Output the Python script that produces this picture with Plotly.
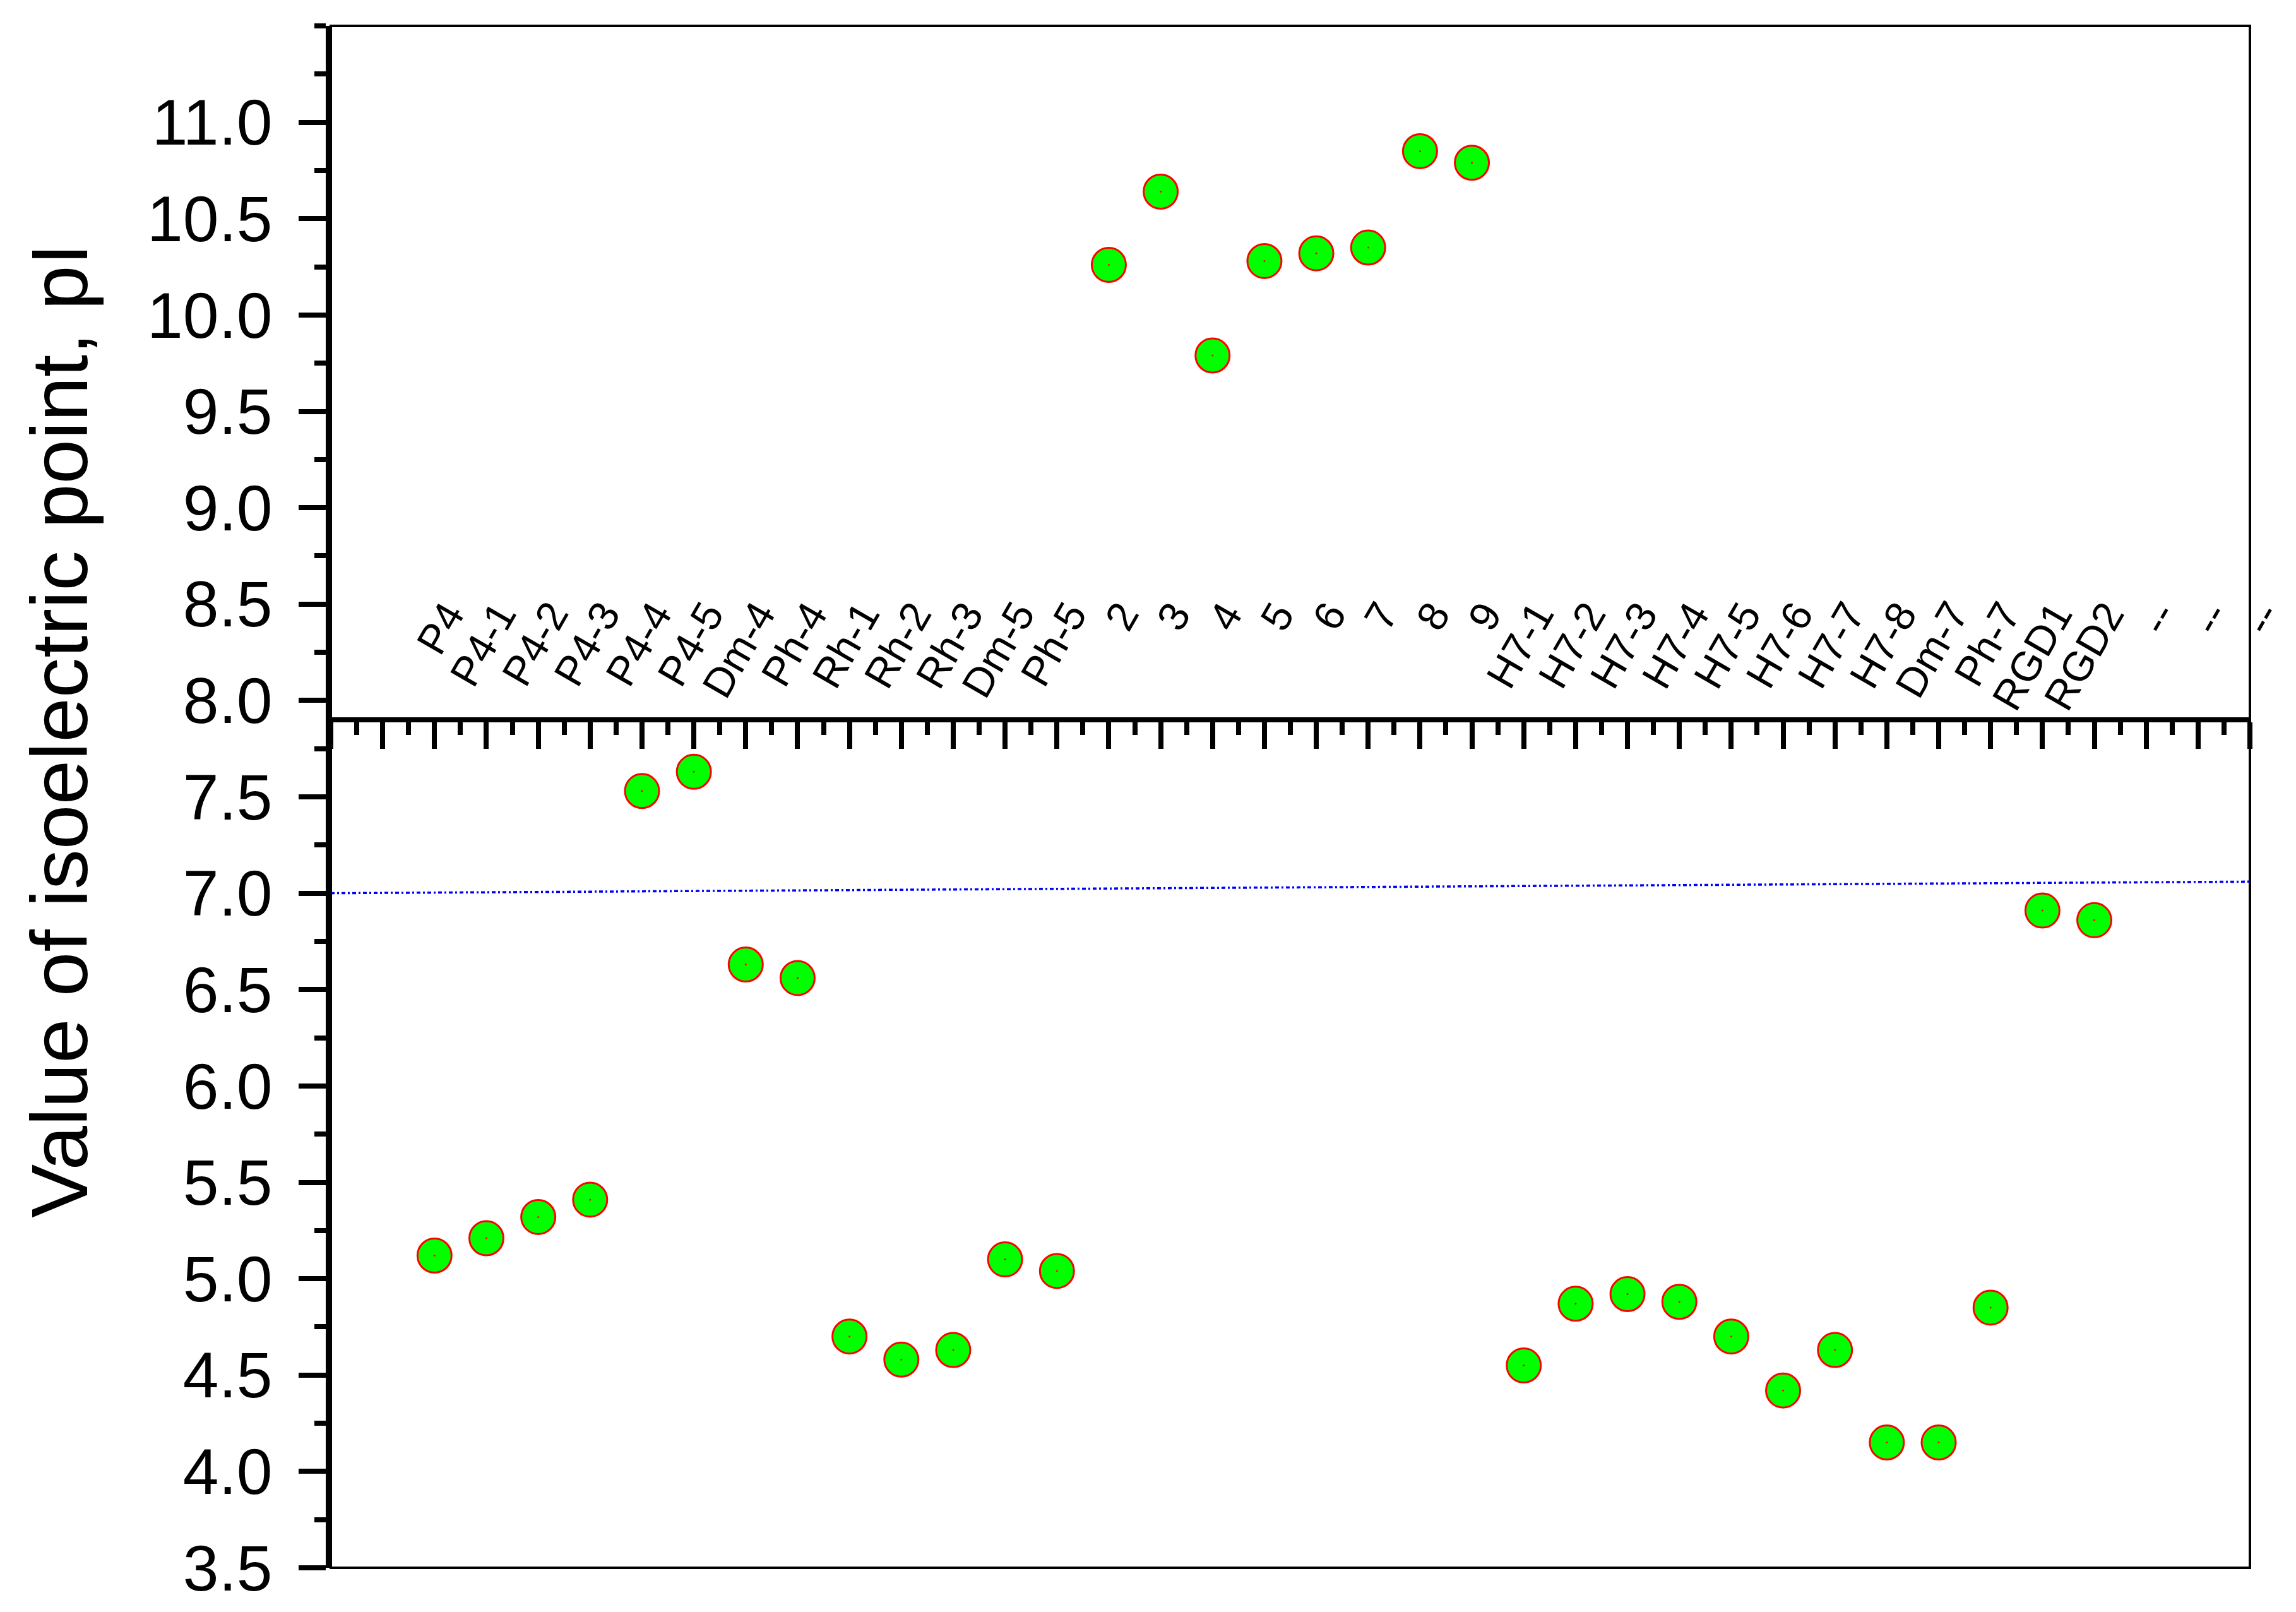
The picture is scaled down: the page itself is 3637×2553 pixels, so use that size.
import plotly.graph_objects as go

# categories along the x axis (labels drawn above the mid axis)
categories = ["P4", "P4-1", "P4-2", "P4-3", "P4-4", "P4-5", "Dm-4", "Ph-4",
              "Rh-1", "Rh-2", "Rh-3", "Dm-5", "Ph-5",
              "2", "3", "4", "5", "6", "7", "8", "9",
              "H7-1", "H7-2", "H7-3", "H7-4", "H7-5", "H7-6", "H7-7", "H7-8",
              "Dm-7", "Ph-7", "RGD1", "RGD2", "--", "--", "--"]

# isoelectric point values (None = no measurement)
pI_values = [5.12, 5.21, 5.32, 5.41, 7.53, 7.63, 6.63, 6.56,
             4.70, 4.58, 4.63, 5.10, 5.04,
             10.26, 10.64, 9.79, 10.28, 10.32, 10.35, 10.85, 10.79,
             4.55, 4.87, 4.92, 4.88, 4.70, 4.42, 4.63, 4.15,
             4.15, 4.85, 6.91, 6.86, None, None, None]

# neutral reference line (pI ~ 7)
ref_x = [-2, 35]
ref_y = [7.00, 7.06]

y_ticks = [3.5, 4.0, 4.5, 5.0, 5.5, 6.0, 6.5, 7.0, 7.5, 8.0, 8.5, 9.0, 9.5, 10.0, 10.5, 11.0]

FONT = "Liberation Sans, Arial, sans-serif"
Y_MIN, Y_MAX = 3.5, 11.5
X_AXIS_AT = 7.9      # where the category axis crosses
LABEL_TOP = 8.56     # top of the rotated category labels
LABEL_SHIFT = 64     # px from tick to right end of label

idx = list(range(len(categories)))

fig = go.Figure()

fig.add_trace(go.Scatter(x=ref_x, y=ref_y, mode="lines",
                         line=dict(color="#0000FF", width=3.5, dash="6px,4px,3px,4px"),
                         showlegend=False, hoverinfo="skip"))

fig.add_trace(go.Scatter(x=idx, y=pI_values, mode="markers",
                         marker=dict(size=54, color="#00FF00",
                                     line=dict(color="#FF0000", width=3)),
                         showlegend=False))
# little red centre dot
fig.add_trace(go.Scatter(x=idx, y=pI_values, mode="markers",
                         marker=dict(size=3, color="#FF0000"),
                         showlegend=False, hoverinfo="skip"))

# rotated category labels
for i, lab in enumerate(categories):
    fig.add_annotation(x=i, y=LABEL_TOP, xref="x", yref="y", xshift=LABEL_SHIFT,
                       text=lab, showarrow=False, textangle=-60,
                       xanchor="right", yanchor="top",
                       font=dict(family=FONT, size=66, color="black"))

# y axis title
fig.add_annotation(x=-0.1415, y=0.543, xref="paper", yref="paper",
                   text="Value of isoelectric point, pI", showarrow=False,
                   textangle=-90, xanchor="center", yanchor="middle",
                   font=dict(family=FONT, size=127, color="black"))

# thin frame round the plot
fig.add_shape(type="rect", xref="paper", yref="paper", x0=0, y0=0, x1=1, y1=1,
              line=dict(color="black", width=4), layer="above")

fig.update_xaxes(range=[-2, 35], anchor="free",
                 position=(X_AXIS_AT - Y_MIN) / (Y_MAX - Y_MIN),
                 showline=True, linecolor="black", linewidth=8,
                 showgrid=False, zeroline=False, showticklabels=False,
                 ticks="outside", tickmode="linear", tick0=0, dtick=1,
                 ticklen=42, tickwidth=8, tickcolor="black",
                 minor=dict(ticks="outside", dtick=0.5, tick0=0, ticklen=20,
                            tickwidth=8, tickcolor="black", showgrid=False))

fig.update_yaxes(range=[Y_MIN, Y_MAX], showline=True, linecolor="black", linewidth=8,
                 showgrid=False, zeroline=False,
                 tickmode="array", tickvals=y_ticks, tickformat=".1f",
                 ticks="outside", ticklen=43, tickwidth=8, tickcolor="black",
                 ticklabelstandoff=21,
                 tickfont=dict(family=FONT, size=102, color="black"),
                 minor=dict(ticks="outside", dtick=0.25, tick0=3.5, ticklen=18,
                            tickwidth=8, tickcolor="black", showgrid=False))

fig.update_layout(width=3637, height=2553,
                  margin=dict(l=524, r=73, t=41, b=58),
                  paper_bgcolor="white", plot_bgcolor="white",
                  showlegend=False)

fig.write_html("out.html", config={"displayModeBar": False},
               post_script="document.body.style.margin='0px';")
